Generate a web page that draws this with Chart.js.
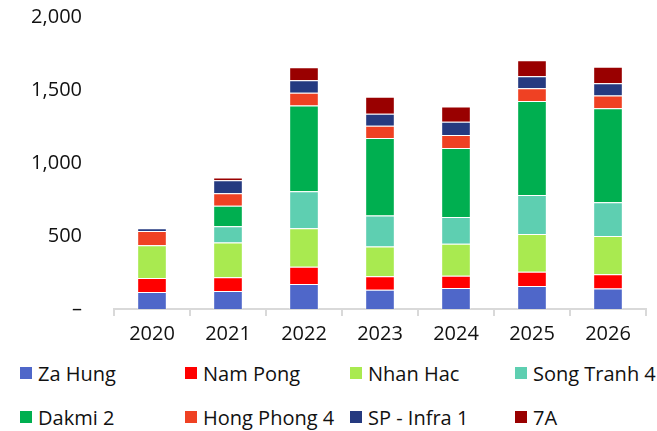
<!DOCTYPE html>
<html>
<head>
<meta charset="utf-8">
<script src="https://cdn.jsdelivr.net/npm/chart.js@4/dist/chart.umd.min.js"></script>
<style>
  body { margin: 0; background: #fff; font-family: "Open Sans", sans-serif; }
  #wrap { position: relative; width: 657px; height: 352px; }
  #legend { position: absolute; left: 20px; top: 360px; width: 640px;
            display: grid; grid-template-columns: 165px 165px 165px 165px; row-gap: 18px; }
  .item { display: flex; align-items: center; font-size: 20px; color: #111; height: 26px; white-space: nowrap; }
  .box { width: 12px; height: 12px; margin-right: 6px; }
</style>
</head>
<body>
<div id="wrap"><canvas id="myChart" width="657" height="352"></canvas></div>
<div id="legend"></div>
<script>
// categories and series (MW)
var years = ['2020', '2021', '2022', '2023', '2024', '2025', '2026'];
var zaHung     = [116, 123, 171, 132, 144, 157, 141];
var namPong    = [97, 95, 118, 92, 83, 98, 97];
var nhanHac    = [224, 238, 264, 204, 220, 259, 262];
var songTranh4 = [0, 111, 253, 213, 183, 266, 231];
var dakmi2     = [0, 141, 588, 530, 472, 644, 644];
var hongPhong4 = [98, 84, 87, 84, 90, 88, 88];
var spInfra1   = [18, 90, 86, 83, 90, 83, 83];
var sevenA     = [0, 18, 88, 116, 105, 109, 114];
var yTicks = [0, 500, 1000, 1500, 2000];

var names  = ['Za Hung', 'Nam Pong', 'Nhan Hac', 'Song Tranh 4', 'Dakmi 2', 'Hong Phong 4', 'SP - Infra 1', '7A'];
var series = [zaHung, namPong, nhanHac, songTranh4, dakmi2, hongPhong4, spInfra1, sevenA];
var colors = ['#4f67c9', '#ff0000', '#a9ea50', '#5ecfb1', '#00af50', '#ef4123', '#253a80', '#990000'];

function draw() {
    var datasets = [];
    for (var i = 0; i < series.length; i++) {
        datasets.push({
            label: names[i],
            data: series[i],
            backgroundColor: colors[i],
            borderColor: 'rgba(255,255,255,0.45)',
            borderWidth: 1,
            barPercentage: 0.39,
            categoryPercentage: 1
        });
    }

    var ctx = document.getElementById('myChart').getContext('2d');
    var chart = new Chart(ctx, {
        type: 'bar',
        data: { labels: years, datasets: datasets },
        options: {
            responsive: false,
            animation: false,
            layout: { padding: { top: 0, right: 11, left: 0, bottom: 0 } },
            plugins: { legend: { display: false }, tooltip: { enabled: false } },
            scales: {
                x: {
                    stacked: true,
                    grid: { display: true, drawOnChartArea: false, drawTicks: true, tickLength: 7,
                            color: '#d9d9d9', lineWidth: 2, offset: true },
                    border: { display: true, color: '#d9d9d9', width: 2 },
                    ticks: { color: '#111', padding: 6, font: { family: 'Open Sans', size: 20 } }
                },
                y: {
                    stacked: true,
                    min: 0,
                    max: 2000,
                    afterBuildTicks: function (scale) {
                        scale.ticks = yTicks.map(function (v) { return { value: v }; });
                    },
                    afterFit: function (scale) {
                        // fixed axis width, and keep the label padding out of the top/bottom
                        scale.width = 114;
                        scale.paddingTop = 17;
                        scale.paddingBottom = 10;
                    },
                    grid: { display: false, drawTicks: false },
                    border: { display: false },
                    ticks: {
                        color: '#111',
                        padding: 32,
                        font: { family: 'Open Sans', size: 20 },
                        callback: function (v) { return v === 0 ? '–' : v.toLocaleString('en-US'); }
                    }
                }
            }
        }
    });

    // legend in four fixed columns
    var legend = document.getElementById('legend');
    names.forEach(function (name, i) {
        var item = document.createElement('div');
        item.className = 'item';
        item.innerHTML = '<span class="box" style="background:' + colors[i] + '"></span>' + name;
        legend.appendChild(item);
    });
}

document.fonts.load('20px "Open Sans"').then(draw, draw);
</script>
</body>
</html>
